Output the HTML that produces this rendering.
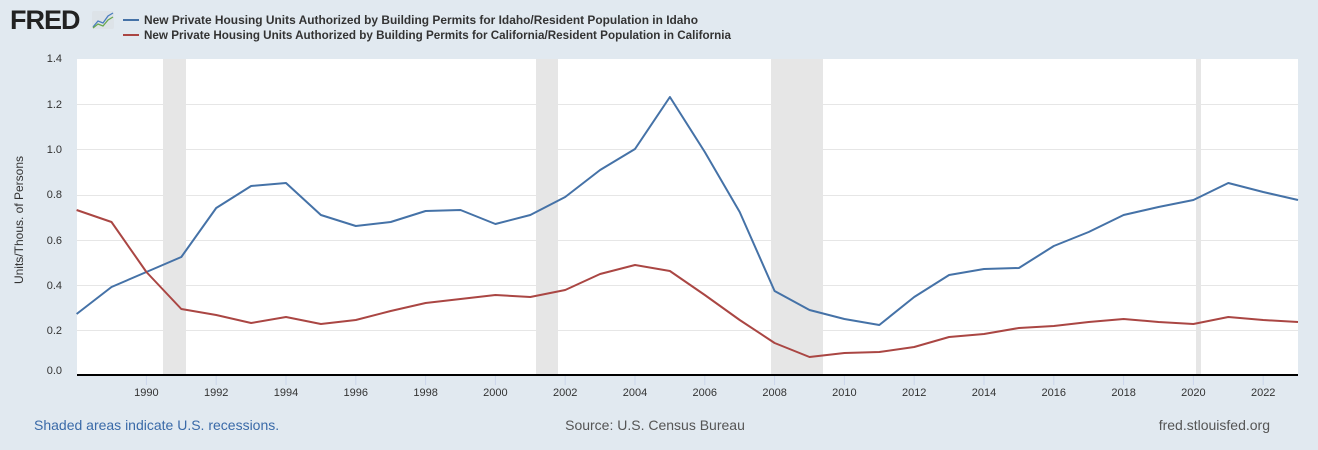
<!DOCTYPE html><html><head><style>body{margin:0;background:#e1e9f0;}svg{display:block;font-family:"Liberation Sans",Arial,sans-serif}</style></head><body>
<svg width="1318" height="450" xmlns="http://www.w3.org/2000/svg">
<rect width="1318" height="450" fill="#e1e9f0"/>
<text x="10" y="29" font-size="27" font-weight="bold" fill="#222" letter-spacing="-1">FRED</text>
<rect x="92" y="11" width="22" height="18" rx="2" fill="#dde3e8"/>
<polyline points="93,27 98,21 103,23 108,16 113,13" fill="none" stroke="#4a7dbf" stroke-width="1.3"/>
<polyline points="93,28 98,24 103,26 108,20 113,17" fill="none" stroke="#6aa84f" stroke-width="1.3"/>
<line x1="123" y1="20" x2="139" y2="20" stroke="#4572a7" stroke-width="2"/>
<line x1="123" y1="35" x2="139" y2="35" stroke="#aa4643" stroke-width="2"/>
<text x="144" y="24" font-size="12" font-weight="bold" fill="#333" textLength="554" lengthAdjust="spacingAndGlyphs">New Private Housing Units Authorized by Building Permits for Idaho/Resident Population in Idaho</text>
<text x="144" y="39" font-size="12" font-weight="bold" fill="#333" textLength="587" lengthAdjust="spacingAndGlyphs">New Private Housing Units Authorized by Building Permits for California/Resident Population in California</text>
<rect x="77" y="59" width="1221" height="316" fill="#fff"/>
<g fill="#e6e6e6"><rect x="163" y="59" width="23" height="316"/><rect x="536" y="59" width="22" height="316"/><rect x="771" y="59" width="52" height="316"/><rect x="1196" y="59" width="5" height="316"/></g>
<g stroke="#e6e6e6" stroke-width="1"><line x1="77" x2="1298" y1="104.5" y2="104.5"/><line x1="77" x2="1298" y1="149.5" y2="149.5"/><line x1="77" x2="1298" y1="195.5" y2="195.5"/><line x1="77" x2="1298" y1="240.5" y2="240.5"/><line x1="77" x2="1298" y1="285.5" y2="285.5"/><line x1="77" x2="1298" y1="330.5" y2="330.5"/></g>
<line x1="77" x2="1298" y1="375" y2="375" stroke="#000" stroke-width="2"/>
<g font-size="11" fill="#333" text-anchor="end"><text x="62" y="62">1.4</text><text x="62" y="108">1.2</text><text x="62" y="153">1.0</text><text x="62" y="198">0.8</text><text x="62" y="244">0.6</text><text x="62" y="289">0.4</text><text x="62" y="334">0.2</text><text x="62" y="374">0.0</text></g>
<text transform="translate(23,220) rotate(-90)" font-size="12" fill="#333" text-anchor="middle">Units/Thous. of Persons</text>
<g stroke="#ccd6eb"><line x1="146.4" x2="146.4" y1="376" y2="385"/><line x1="216.2" x2="216.2" y1="376" y2="385"/><line x1="286" x2="286" y1="376" y2="385"/><line x1="355.8" x2="355.8" y1="376" y2="385"/><line x1="425.6" x2="425.6" y1="376" y2="385"/><line x1="495.4" x2="495.4" y1="376" y2="385"/><line x1="565.2" x2="565.2" y1="376" y2="385"/><line x1="635" x2="635" y1="376" y2="385"/><line x1="704.8" x2="704.8" y1="376" y2="385"/><line x1="774.6" x2="774.6" y1="376" y2="385"/><line x1="844.4" x2="844.4" y1="376" y2="385"/><line x1="914.2" x2="914.2" y1="376" y2="385"/><line x1="984" x2="984" y1="376" y2="385"/><line x1="1053.8" x2="1053.8" y1="376" y2="385"/><line x1="1123.6" x2="1123.6" y1="376" y2="385"/><line x1="1193.4" x2="1193.4" y1="376" y2="385"/><line x1="1263.2" x2="1263.2" y1="376" y2="385"/></g>
<g font-size="11" fill="#333" text-anchor="middle"><text x="146.4" y="396">1990</text><text x="216.2" y="396">1992</text><text x="286" y="396">1994</text><text x="355.8" y="396">1996</text><text x="425.6" y="396">1998</text><text x="495.4" y="396">2000</text><text x="565.2" y="396">2002</text><text x="635" y="396">2004</text><text x="704.8" y="396">2006</text><text x="774.6" y="396">2008</text><text x="844.4" y="396">2010</text><text x="914.2" y="396">2012</text><text x="984" y="396">2014</text><text x="1053.8" y="396">2016</text><text x="1123.6" y="396">2018</text><text x="1193.4" y="396">2020</text><text x="1263.2" y="396">2022</text></g>
<polyline fill="none" stroke="#4572a7" stroke-width="2" stroke-linejoin="round" points="76.6,314 111.5,287 146.4,272 181.3,257 216.2,208 251.1,186 286,183 320.9,215 355.8,226 390.7,222 425.6,211 460.5,210 495.4,224 530.3,215 565.2,197 600.1,170 635,149 669.9,97 704.8,152 739.7,212 774.6,291 809.5,310 844.4,319 879.3,325 914.2,297 949.1,275 984,269 1018.9,268 1053.8,246 1088.7,232 1123.6,215 1158.5,207 1193.4,200 1228.3,183 1263.2,192 1298,200"/>
<polyline fill="none" stroke="#aa4643" stroke-width="2" stroke-linejoin="round" points="76.6,210 111.5,222 146.4,272 181.3,309 216.2,315 251.1,323 286,317 320.9,324 355.8,320 390.7,311 425.6,303 460.5,299 495.4,295 530.3,297 565.2,290 600.1,274 635,265 669.9,271 704.8,295 739.7,320 774.6,343 809.5,357 844.4,353 879.3,352 914.2,347 949.1,337 984,334 1018.9,328 1053.8,326 1088.7,322 1123.6,319 1158.5,322 1193.4,324 1228.3,317 1263.2,320 1298,322"/>
<text x="34" y="430" font-size="14" fill="#3a6aa8">Shaded areas indicate U.S. recessions.</text>
<text x="655" y="430" font-size="14" fill="#555" text-anchor="middle">Source: U.S. Census Bureau</text>
<text x="1270" y="430" font-size="14" fill="#555" text-anchor="end">fred.stlouisfed.org</text>
</svg></body></html>
